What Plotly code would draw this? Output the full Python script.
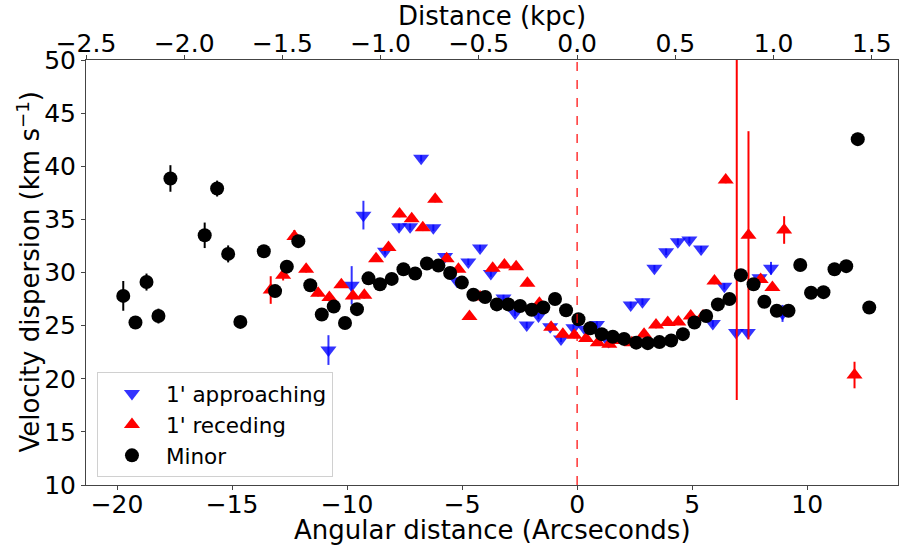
import plotly.graph_objects as go

# ---------------- data ----------------
minor_x = [-19.73, -19.2, -18.72, -18.2, -17.68, -16.19, -15.65, -15.17, -14.64,
           -13.62, -13.13, -12.62, -12.12, -11.6, -11.1, -10.58, -10.09, -9.57,
           -9.07, -8.57, -8.06, -7.55, -7.04, -6.53, -6.03, -5.52, -5.01, -4.51,
           -4.0, -3.49, -2.99, -2.48, -1.97, -1.47, -0.96, -0.48, 0.06, 0.57,
           1.07, 1.55, 2.04, 2.57, 3.07, 3.58, 4.09, 4.6, 5.1, 5.61, 6.12, 6.62,
           7.12, 7.67, 8.14, 8.68, 9.19, 9.7, 10.17, 10.71, 11.19, 11.7, 12.2, 12.7]
minor_y = [27.8, 25.3, 29.1, 25.9, 38.85, 33.5, 37.9, 31.75, 25.35,
           32.0, 28.25, 30.55, 32.95, 28.8, 26.05, 26.8, 25.25, 26.55,
           29.45, 28.9, 29.4, 30.3, 29.9, 30.85, 30.65, 29.95, 29.05, 27.9,
           27.7, 27.0, 27.0, 26.85, 26.5, 26.7, 27.5, 26.45, 25.6, 24.75,
           24.2, 23.95, 23.75, 23.4, 23.35, 23.45, 23.6, 24.2, 25.3, 25.9, 27.0, 27.5,
           29.75, 28.9, 27.25, 26.4, 26.4, 30.7, 28.1, 28.15, 30.3, 30.6, 42.55, 26.7]
minor_err = [1.4, 0.4, 0.8, 0.7, 1.25, 1.2, 0.75, 0.8, 0.3,
             0.3, 0.3, 0.3, 0.3, 0.3, 0.3, 0.3, 0.3, 0.3,
             0.3, 0.3, 0.3, 0.3, 0.3, 0.3, 0.3, 0.3, 0.3, 0.3,
             0.3, 0.3, 0.3, 0.3, 0.3, 0.3, 0.3, 0.3, 0.3, 0.3,
             0.3, 0.3, 0.3, 0.3, 0.3, 0.3, 0.3, 0.3, 0.3, 0.3, 0.3, 0.3,
             0.3, 0.3, 0.3, 0.3, 0.3, 0.3, 0.3, 0.3, 0.3, 0.3, 0.6, 0.3]

rec_x = [-13.32, -12.78, -12.29, -11.78, -11.26, -10.77, -10.25, -9.75, -9.25,
         -8.74, -8.2, -7.72, -7.19, -6.71, -6.17, -5.67, -5.16, -4.68, -4.22,
         -3.67, -3.16, -2.65, -2.16, -1.64, -1.13, -0.62, -0.12, 0.39, 0.9,
         1.4, 1.91, 2.38, 2.91, 3.43, 3.94, 4.4, 4.94, 5.47, 5.97, 6.46,
         6.94, 7.45, 7.98, 8.49, 9.0, 12.06]
rec_y = [28.35, 29.75, 33.4, 30.3, 28.05, 27.65, 28.85, 27.8, 27.85,
         31.3, 32.35, 35.5, 35.05, 34.2, 36.9, 31.3, 30.3, 25.85, 27.7,
         30.4, 30.7, 30.55, 29.0, 27.1, 24.85, 24.2, 24.1, 23.8, 23.4,
         23.25, 23.6, 23.4, 24.2, 25.05, 25.3, 25.35, 25.9, 25.9, 29.2, 38.7,
         60.0, 33.5, 29.35, 28.6, 34.0, 20.35]
rec_err = [1.3, 0.5, 0.6, 0.3, 0.3, 0.3, 0.3, 0.3, 0.3,
           0.3, 0.3, 0.3, 0.3, 0.3, 0.3, 0.3, 0.3, 0.3, 0.3,
           0.3, 0.3, 0.3, 0.3, 0.3, 0.3, 0.3, 0.3, 0.3, 0.3,
           0.3, 0.3, 0.3, 0.3, 0.3, 0.3, 0.3, 0.3, 0.3, 0.3, 0.3,
           42.0, 9.8, 0.3, 0.3, 1.3, 1.25]

app_x = [-10.81, -9.8, -9.29, -8.35, -7.74, -7.26, -6.78, -6.25, -5.74, -5.23,
         -4.73, -4.22, -3.75, -3.2, -2.7, -2.19, -1.68, -1.17, -0.7, -0.16,
         0.35, 0.86, 1.36, 2.33, 2.84, 3.36, 3.87, 4.38, 4.88, 5.39, 5.9,
         6.4, 6.91, 7.42, 7.93, 8.43, 8.93]
app_y = [22.7, 28.8, 35.4, 32.0, 34.3, 34.3, 40.75, 34.2, 31.5, 29.2,
         31.0, 32.3, 29.9, 27.6, 26.2, 25.05, 25.9, 24.9, 23.75, 24.8,
         24.65, 25.1, 23.5, 26.95, 27.25, 30.4, 31.95, 32.9, 33.05, 32.2, 25.2,
         28.7, 24.35, 24.35, 29.5, 30.4, 26.15]
app_err = [1.4, 1.8, 1.35, 0.3, 0.3, 0.3, 0.3, 0.3, 0.3, 0.3,
           0.3, 0.3, 0.3, 0.3, 0.3, 0.3, 0.3, 0.3, 0.3, 0.3,
           0.3, 0.3, 0.3, 0.3, 0.3, 0.3, 0.3, 0.3, 0.3, 0.3, 0.3,
           0.3, 0.3, 0.3, 0.3, 0.6, 0.8]

x_range = [-21.35, 13.95]
kpc_per_arcsec = 0.1171
y_range = [10, 50]
center_x = 0

x_title = "Angular distance (Arcseconds)"
x2_title = "Distance (kpc)"
y_title = "Velocity dispersion (km s<sup>−1</sup>)"

FONT = "DejaVu Sans"
BLUE = "rgba(0,0,255,0.8)"

fig = go.Figure()
fig.add_trace(go.Scatter(
    x=app_x, y=app_y, mode="markers", name="1' approaching",
    marker=dict(symbol="triangle-down", size=14, color=BLUE),
    error_y=dict(type="data", array=app_err, color=BLUE, thickness=2, width=0)))
fig.add_trace(go.Scatter(
    x=rec_x, y=rec_y, mode="markers", name="1' receding",
    marker=dict(symbol="triangle-up", size=14, color="red"),
    error_y=dict(type="data", array=rec_err, color="red", thickness=2, width=0)))
fig.add_trace(go.Scatter(
    x=minor_x, y=minor_y, mode="markers", name="Minor",
    marker=dict(symbol="circle", size=14, color="black"),
    error_y=dict(type="data", array=minor_err, color="black", thickness=2, width=0)))
# invisible trace to activate the top (kpc) axis
fig.add_trace(go.Scatter(
    x=[x_range[0] * kpc_per_arcsec, x_range[1] * kpc_per_arcsec], y=[None, None],
    xaxis="x2", yaxis="y", mode="markers", showlegend=False, hoverinfo="skip"))

fig.add_shape(type="line", xref="x", yref="paper", x0=center_x, x1=center_x,
              y0=0, y1=1, line=dict(color="red", width=1.2, dash="dash"))

axis_common = dict(showgrid=False, zeroline=False, showline=True, linecolor="#444",
                   linewidth=1, ticks="outside", ticklen=4, tickcolor="#444",
                   tickfont=dict(family=FONT, size=25, color="black"))

fig.update_layout(
    width=899, height=548,
    margin=dict(l=86, r=1, t=60, b=63),
    plot_bgcolor="white", paper_bgcolor="white",
    font=dict(family=FONT, size=26, color="black"),
    xaxis=dict(range=x_range, tick0=0, dtick=5, ticklabelstandoff=-7, **axis_common),
    xaxis2=dict(range=[x_range[0] * kpc_per_arcsec, x_range[1] * kpc_per_arcsec],
                overlaying="x", side="top", tick0=0, dtick=0.5, tickformat=".1f",
                ticklabelstandoff=-7, **axis_common),
    yaxis=dict(range=y_range, tick0=10, dtick=5, mirror=True, **axis_common),
    legend=dict(x=0.0135, y=0.266, xanchor="left", yanchor="top",
                bgcolor="white", bordercolor="#d0d0d0", borderwidth=1,
                font=dict(family=FONT, size=21.5), itemwidth=58, tracegroupgap=0),
    showlegend=True,
)

# axis titles placed as annotations for precise positioning
fig.add_annotation(text=x_title, xref="paper", yref="paper", x=0.5, y=-0.106,
                   xanchor="center", yanchor="middle", showarrow=False,
                   font=dict(family=FONT, size=26, color="black"))
fig.add_annotation(text=x2_title, xref="paper", yref="paper", x=0.5, y=1.104,
                   xanchor="center", yanchor="middle", showarrow=False,
                   font=dict(family=FONT, size=26, color="black"))
fig.add_annotation(text=y_title, xref="paper", yref="paper", x=-0.0714, y=0.5,
                   xanchor="center", yanchor="middle", textangle=-90, showarrow=False,
                   font=dict(family=FONT, size=26, color="black"))

fig.write_html("out.html")
